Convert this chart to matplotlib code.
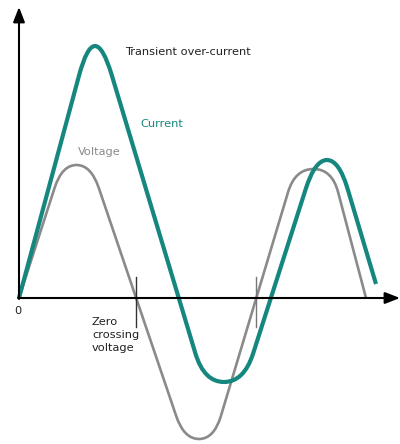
import matplotlib
matplotlib.use("Agg")
import matplotlib.pyplot as plt
from matplotlib.path import Path
from matplotlib.patches import PathPatch
import numpy as np

# corner points of the two waveforms (pixel units, y down)
current_x = [19, 87, 103, 204, 244, 315, 339, 376]
current_y = [298, 46, 46, 382, 382, 160, 160, 284]
voltage_x = [19, 62, 91, 184, 214, 295, 332, 366]
voltage_y = [298, 165, 165, 439, 439, 169, 169, 298]

# zero crossing ticks
tick_x = [136, 256]
tick_colors = ["#333333", "#777777"]

teal = "#16877f"
grey = "#8a8a8a"


def rounded_path(xs, ys, r):
    # polyline with every inner corner rounded by a quadratic curve
    pts = np.column_stack([xs, ys]).astype(float)
    verts = [pts[0]]
    codes = [Path.MOVETO]
    for i in range(1, len(pts) - 1):
        a, v, b = pts[i - 1], pts[i], pts[i + 1]
        d_in = v - a
        d_out = b - v
        l_in = np.hypot(*d_in)
        l_out = np.hypot(*d_out)
        c_in = min(r, l_in / 2)
        c_out = min(r, l_out / 2)
        p1 = v - d_in / l_in * c_in
        p2 = v + d_out / l_out * c_out
        verts += [p1, v, p2]
        codes += [Path.LINETO, Path.CURVE3, Path.CURVE3]
    verts.append(pts[-1])
    codes.append(Path.LINETO)
    return Path(verts, codes)


fig = plt.figure(figsize=(4, 4.44), dpi=100)
ax = fig.add_axes([0, 0, 1, 1])
ax.set_xlim(0, 400)
ax.set_ylim(444, 0)
ax.axis("off")

# axes with arrows
arrow = dict(arrowstyle="-|>,head_length=0.9,head_width=0.35",
             lw=1.5, color="black", shrinkA=0, shrinkB=0)
ax.annotate("", xy=(19, 7), xytext=(19, 299), arrowprops=arrow,
            annotation_clip=False)
ax.annotate("", xy=(400, 298), xytext=(18, 298), arrowprops=arrow,
            annotation_clip=False)

# voltage
ax.add_patch(PathPatch(rounded_path(voltage_x, voltage_y, 24), fill=False,
                       edgecolor=grey, lw=1.9, capstyle="butt", joinstyle="round"))
# current
ax.add_patch(PathPatch(rounded_path(current_x, current_y, 30), fill=False,
                       edgecolor=teal, lw=3.0, capstyle="butt", joinstyle="round"))

for tx, tc in zip(tick_x, tick_colors):
    ax.plot([tx, tx], [277, 327], color=tc, lw=1.0)

fs = 8.2
ax.text(18, 311, "0", fontsize=fs, ha="center", va="center", color="#222222")
ax.text(125, 52, "Transient over-current", fontsize=fs, ha="left", va="center",
        color="#222222")
ax.text(140, 124, "Current", fontsize=fs, ha="left", va="center", color=teal)
ax.text(78, 152, "Voltage", fontsize=fs, ha="left", va="center", color=grey)
ax.text(92, 317, "Zero\ncrossing\nvoltage", fontsize=fs, ha="left", va="top",
        color="#222222", linespacing=1.4)

fig.savefig("out.png", dpi=100)
